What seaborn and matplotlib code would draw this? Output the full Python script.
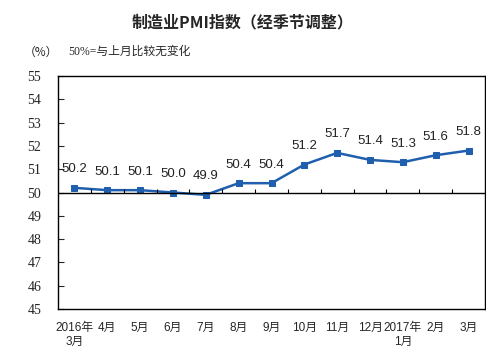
import matplotlib
matplotlib.use("Agg")
import matplotlib.pyplot as plt
import seaborn as sns
import pandas as pd

months = ["2016年\n3月", "4月", "5月", "6月", "7月", "8月", "9月",
          "10月", "11月", "12月", "2017年\n1月", "2月", "3月"]
pmi = [50.2, 50.1, 50.1, 50.0, 49.9, 50.4, 50.4, 51.2, 51.7, 51.4, 51.3, 51.6, 51.8]
yticks = list(range(45, 56))

sns.set_style("white")
plt.rcParams["font.family"] = ["Liberation Sans", "Noto Sans CJK SC", "DejaVu Sans"]

df = pd.DataFrame({"pos": range(len(months)), "pmi": pmi})

fig = plt.figure(figsize=(4.86, 3.56), dpi=100)
ax = fig.add_axes([58 / 486, 1 - 309 / 356, 427 / 486, 233 / 356])

sns.lineplot(data=df, x="pos", y="pmi", ax=ax, color="#1f5fad", lw=1.8,
             marker="s", markersize=4, markeredgecolor="#1f5fad")

for x, v in zip(df["pos"], df["pmi"]):
    ax.annotate(f"{v:.1f}", (x, v), xytext=(0, 9), textcoords="offset points",
                ha="center", va="bottom", fontsize=9.5, color="#222222")

ax.set_xlim(-0.5, len(months) - 0.5)
ax.set_ylim(45, 55)
ax.set_yticks(yticks)
ax.set_yticklabels([str(t) for t in yticks], fontsize=10, family=["Liberation Serif"])
ax.tick_params(axis="y", direction="in", length=4, width=0.8, pad=12, left=True)

# 50 baseline with category separators
ax.axhline(50, color="black", lw=1)
ax.vlines([k + 0.5 for k in range(len(months) - 1)], 50, 50.13, color="black", lw=0.8)

ax.set_xticks(range(len(months)))
ax.set_xticklabels(months, fontsize=8.5, linespacing=1.3)
ax.tick_params(axis="x", length=0, pad=9)
ax.set_xlabel("")
ax.set_ylabel("")

for s in ax.spines.values():
    s.set_color("black")
    s.set_linewidth(1)

fig.text(0.5, 1 - 22 / 356, "制造业PMI指数（经季节调整）", ha="center", va="center",
         fontsize=11.5, fontweight="bold", family=["Noto Sans CJK SC"])
fig.text(24 / 486, 1 - 52 / 356, "（%）", ha="left", va="center", fontsize=8.5,
         family=["Noto Sans CJK SC"])
fig.text(68 / 486, 1 - 52 / 356, "50%=与上月比较无变化", ha="left", va="center", fontsize=8.5,
         family=["Liberation Serif", "Noto Sans CJK SC"])

fig.savefig("out.png", dpi=100)
